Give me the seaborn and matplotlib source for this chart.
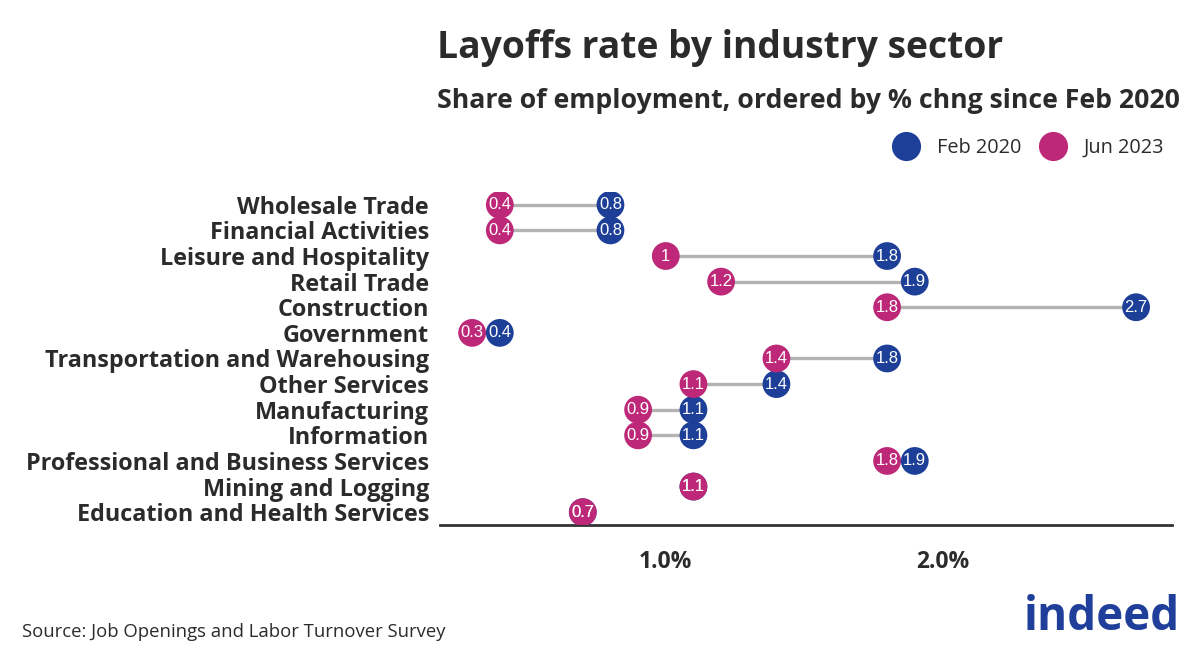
import numpy as np
import pandas as pd
import seaborn as sns
from matplotlib import pyplot as plt

# data
sectors = [
    "Wholesale Trade", "Financial Activities", "Leisure and Hospitality",
    "Retail Trade", "Construction", "Government",
    "Transportation and Warehousing", "Other Services", "Manufacturing",
    "Information", "Professional and Business Services", "Mining and Logging",
    "Education and Health Services",
]
feb_2020 = [0.8, 0.8, 1.8, 1.9, 2.7, 0.4, 1.8, 1.4, 1.1, 1.1, 1.9, 1.1, 0.7]
jun_2023 = [0.4, 0.4, 1.0, 1.2, 1.8, 0.3, 1.4, 1.1, 0.9, 0.9, 1.8, 1.1, 0.7]
series = ["Feb 2020", "Jun 2023"]
xticks = [1.0, 2.0]

BLUE = "#1d3f98"
PINK = "#bd2878"
TEXT = "#2b2b2b"

sns.set_theme(style="white")
plt.rcParams["font.family"] = ["Open Sans", "DejaVu Sans"]

wide = pd.DataFrame({"sector": sectors, "Feb 2020": feb_2020, "Jun 2023": jun_2023})
df = wide.melt(id_vars="sector", var_name="series", value_name="value")
# right-most point of each row on top; Jun on top when tied
df["s_ord"] = df["series"].map({"Feb 2020": 0, "Jun 2023": 1})
df = df.sort_values(["value", "s_ord"]).reset_index(drop=True)
df["sector"] = pd.Categorical(df["sector"], sectors)

fig = plt.figure(figsize=(12, 6.55), dpi=100)
ax = fig.add_axes([0.3667, 0.1985, 0.61, 0.5084])

# connecting segments
for i, row in wide.iterrows():
    ax.plot([row["Jun 2023"], row["Feb 2020"]], [i, i], color="#b3b3b3", lw=2.4,
            solid_capstyle="butt", zorder=1)

sns.scatterplot(data=df, x="value", y="sector", hue="series", hue_order=series,
                palette={"Feb 2020": BLUE, "Jun 2023": PINK}, s=400,
                linewidth=0, ax=ax, zorder=3)

for r in df.itertuples():
    ax.text(r.value, sectors.index(r.sector), f"{r.value:g}", ha="center", va="center",
            color="white", fontsize=12, family=["Liberation Sans", "DejaVu Sans"], zorder=4)

ax.set_xlim(0.184, 2.83)
ax.set_ylim(12.5, -0.5)
ax.set_xticks(xticks)
ax.set_xticklabels([f"{t:.1f}%" for t in xticks], fontsize=16.5, fontweight="bold", color=TEXT)
ax.tick_params(axis="x", length=0, pad=18)
ax.tick_params(axis="y", length=0, pad=8)
for lab in ax.get_yticklabels():
    lab.set_fontsize(16.8)
    lab.set_fontweight("bold")
    lab.set_color(TEXT)
ax.set_xlabel("")
ax.set_ylabel("")
sns.despine(ax=ax, left=True)
ax.spines["bottom"].set_color("#333333")
ax.spines["bottom"].set_linewidth(2)

sns.move_legend(ax, loc="center right", bbox_to_anchor=(1182 / 1200, 1 - 148 / 655),
                bbox_transform=fig.transFigure, ncol=2, title=None, frameon=False,
                fontsize=14.3, markerscale=1.05, handletextpad=0.55, columnspacing=0.6)
for t in ax.get_legend().texts:
    t.set_color(TEXT)

fig.text(437 / 1200, 1 - 48 / 655, "Layoffs rate by industry sector", fontsize=26.8,
         fontweight="bold", color=TEXT, va="center", ha="left")
fig.text(437 / 1200, 1 - 101 / 655, "Share of employment, ordered by % chng since Feb 2020",
         fontsize=19.2, fontweight="bold", color=TEXT, va="center", ha="left")
fig.text(22 / 1200, 1 - 632 / 655, "Source: Job Openings and Labor Turnover Survey",
         fontsize=13.3, color=TEXT, va="center", ha="left")
fig.text(1180 / 1200, 1 - 618 / 655, "indeed", fontsize=33, fontweight="bold",
         color="#1f3f9a", va="center", ha="right")

fig.savefig("out.png", dpi=100)
